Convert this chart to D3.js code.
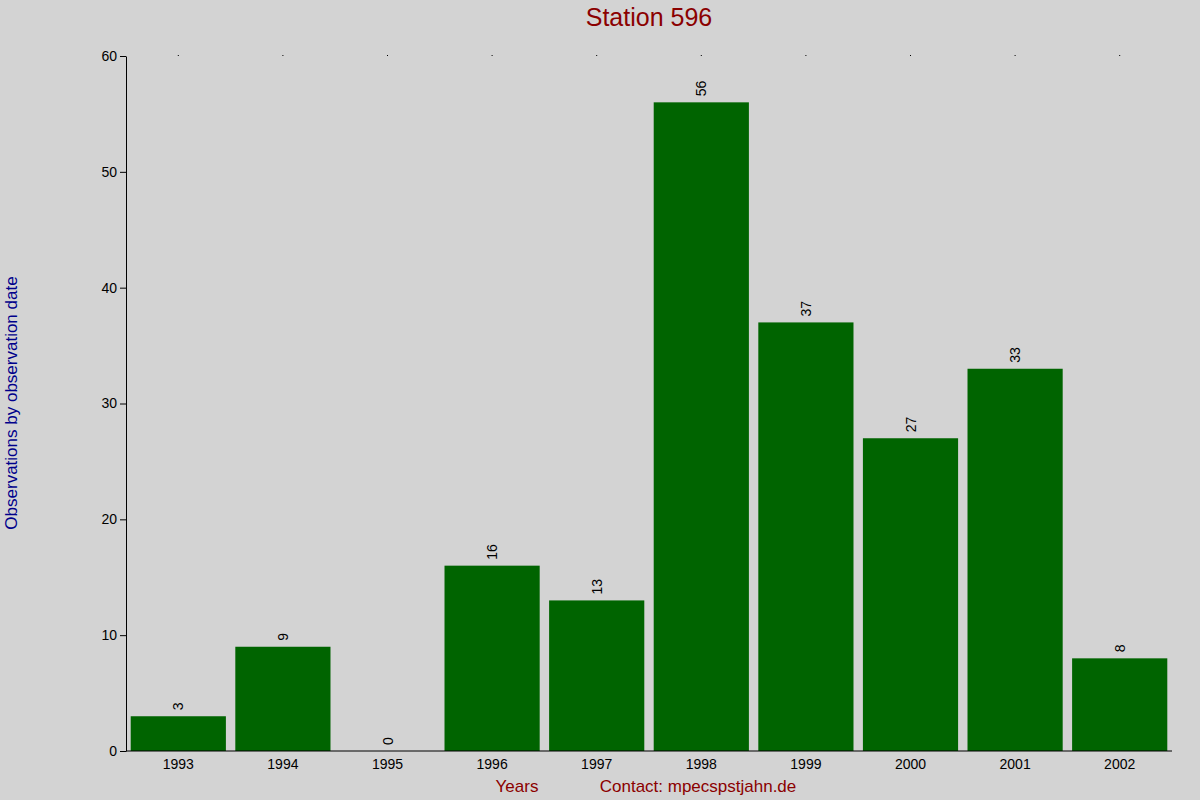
<!DOCTYPE html>
<html><head><meta charset="utf-8">
<script src="https://cdn.jsdelivr.net/npm/d3@7"></script>
<style>body{margin:0;background:#d3d3d3;font-family:Arial,"Liberation Sans",sans-serif}</style>
</head><body>
<svg id="c" width="1200" height="800"></svg>
<script>
const years = ["1993","1994","1995","1996","1997","1998","1999","2000","2001","2002"];
const counts = [3,9,0,16,13,56,37,27,33,8];
const yTicks = [0,10,20,30,40,50,60];

const svg = d3.select("#c");
svg.append("rect").attr("width",1200).attr("height",800).attr("fill","#d3d3d3");
const L=126,R=1172,T=56,B=751;
const x = d3.scaleBand().domain(years).range([L,R]).paddingInner(0.09).paddingOuter(0.045);
const y = d3.scaleLinear().domain([0,60]).range([B,T]);

svg.append("g").selectAll("rect").data(counts).join("rect")
  .attr("x",(d,i)=>x(years[i])).attr("width",x.bandwidth())
  .attr("y",d=>y(d)).attr("height",d=>B-y(d)).attr("fill","#006400");

svg.append("g").selectAll("text").data(counts).join("text")
  .attr("transform",(d,i)=>`translate(${x(years[i])+x.bandwidth()/2+5},${y(d)-6}) rotate(-90)`)
  .attr("font-size",14).attr("fill","#000").text(d=>d);

const ya = svg.append("g").attr("transform",`translate(${L},0)`)
  .call(d3.axisLeft(y).tickValues(yTicks).tickSize(6).tickSizeOuter(0));
ya.selectAll("text").attr("font-size",14).attr("fill","#000").attr("font-family","Arial,'Liberation Sans',sans-serif");
ya.select(".domain").attr("stroke","#000");

const xa = svg.append("g").attr("transform",`translate(0,${B})`)
  .call(d3.axisBottom(x).tickSize(0).tickPadding(8));
xa.selectAll("text").attr("font-size",14).attr("fill","#000").attr("font-family","Arial,'Liberation Sans',sans-serif");
xa.select(".domain").attr("d",`M${L},0H${R}`).attr("stroke","#000");

svg.append("g").selectAll("line").data(years).join("line")
  .attr("x1",d=>x(d)+x.bandwidth()/2).attr("x2",d=>x(d)+x.bandwidth()/2)
  .attr("y1",T-1).attr("y2",T).attr("stroke","#000");

svg.append("text").attr("x",649).attr("y",26).attr("text-anchor","middle")
  .attr("font-size",25).attr("fill","#8b0000").text("Station 596");
svg.append("text").attr("transform","translate(17,403) rotate(-90)").attr("text-anchor","middle")
  .attr("font-size",17).attr("fill","#00008b").text("Observations by observation date");
svg.append("text").attr("x",517).attr("y",792).attr("text-anchor","middle")
  .attr("font-size",17).attr("fill","#8b0000").text("Years");
svg.append("text").attr("x",698).attr("y",792).attr("text-anchor","middle")
  .attr("font-size",17).attr("fill","#8b0000").text("Contact: mpecspstjahn.de");
</script>
</body></html>
